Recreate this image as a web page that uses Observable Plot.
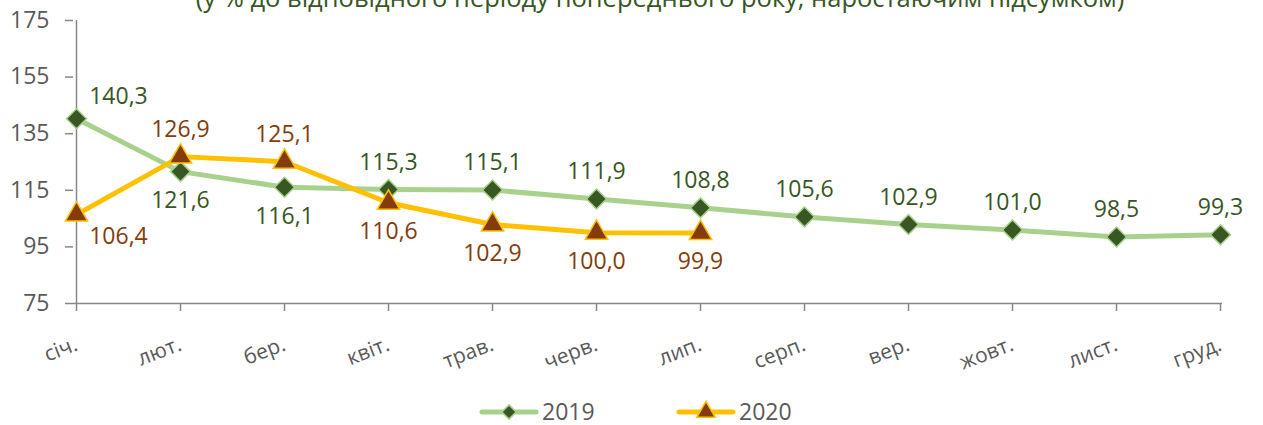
<!DOCTYPE html>
<html><head><meta charset="utf-8">
<script src="https://cdn.jsdelivr.net/npm/d3@7"></script>
<script src="https://cdn.jsdelivr.net/npm/@observablehq/plot@0.6"></script>
<style>
body{margin:0;background:#fff;width:1263px;height:425px;overflow:hidden;position:relative;font-family:"Open Sans",sans-serif;}
#title{position:absolute;left:0;width:1320px;text-align:center;top:-14.6px;font-size:25.5px;line-height:25.5px;color:#375623;white-space:nowrap}
#chart{position:absolute;left:0;top:0}
#legend{position:absolute;left:0;top:396px;width:1263px;height:30px}
</style></head>
<body>
<div id="title">(у % до відповідного періоду попереднього року, наростаючим підсумком)</div>
<div id="chart"></div>
<div id="legend"></div>
<script>
const months = ["січ.","лют.","бер.","квіт.","трав.","черв.","лип.","серп.","вер.","жовт.","лист.","груд."];
const values2019 = [140.3,121.6,116.1,115.3,115.1,111.9,108.8,105.6,102.9,101.0,98.5,99.3];
const values2020 = [106.4,126.9,125.1,110.6,102.9,100.0,99.9];
const yTicks = [75,95,115,135,155,175];
const seriesNames = ["2019","2020"];
const labelSide2019 = ["aboveRight","below","below","above","above","above","above","above","above","above","above","above"];
const labelSide2020 = ["belowRight","above","above","below","below","below","below"];

const C = {
  line2019:"#a9d18e", mark2019:"#385723", text2019:"#375623",
  line2020:"#ffc000", mark2020:"#843c0c", text2020:"#843c0c",
  axis:"#868686", tick:"#595959"
};

const fmt = v => d3.format(".1f")(v).replace(".", ",");
const d19 = values2019.map((v,i)=>({m:months[i], v, side:labelSide2019[i], s:seriesNames[0]}));
const d20 = values2020.map((v,i)=>({m:months[i], v, side:labelSide2020[i], s:seriesNames[1]}));

const offs = {above:[0,-27], below:[0,29], aboveRight:[42,-22], belowRight:[42,22]};
function labels(data, color){
  return Object.keys(offs).map(k => Plot.text(data.filter(d=>d.side===k), {
    x:"m", y:"v", text:d=>fmt(d.v), dx:offs[k][0], dy:offs[k][1],
    fill:color, fontSize:23, fontFamily:"Open Sans"
  }));
}

const chart = Plot.plot({
  width:1263, height:380,
  marginLeft:73, marginRight:41, marginTop:20, marginBottom:77,
  style:{fontFamily:"Open Sans", fontSize:"22px", background:"transparent", overflow:"visible"},
  x:{type:"point", domain:months, padding:0},
  y:{domain:[75,175]},
  marks:[
    Plot.ruleY([75], {stroke:C.axis, strokeWidth:1.5}),
    Plot.ruleX([months[0]], {y1:75, y2:175, stroke:C.axis, strokeWidth:1.5}),
    Plot.axisY({ticks:yTicks, tickSize:8, tickPadding:16, stroke:C.axis, fill:C.tick, label:null, strokeWidth:1.5}),
    Plot.axisX({tickSize:8, tickPadding:32, tickRotate:-21, stroke:C.axis, fill:C.tick, label:null, strokeWidth:1.5}),
    Plot.line(d19, {x:"m", y:"v", stroke:C.line2019, strokeWidth:5}),
    Plot.line(d20, {x:"m", y:"v", stroke:C.line2020, strokeWidth:5}),
    Plot.dot(d19, {x:"m", y:"v", symbol:"diamond2", r:9, fill:C.mark2019, stroke:C.line2019, strokeWidth:1.5}),
    Plot.dot(d20, {x:"m", y:"v", symbol:"triangle", r:8.3, fill:C.mark2020, stroke:C.line2020, strokeWidth:1.5}),
    ...labels(d19, C.text2019),
    ...labels(d20, C.text2020)
  ]
});
document.getElementById("chart").appendChild(chart);
d3.select(chart).selectAll('g[aria-label="y-axis tick label"]').attr("font-size", 23).style("font-size", "23px");
d3.select(chart).selectAll('g[aria-label="x-axis tick label"]').attr("font-size", 21).style("font-size", "21px");

// legend
const legend = d3.select("#legend").append("svg").attr("width",1263).attr("height",30);
const items = [
  {name:seriesNames[0], x:480, line:C.line2019, fill:C.mark2019, sym:d3.symbolDiamond2, size:130},
  {name:seriesNames[1], x:677, line:C.line2020, fill:C.mark2020, sym:d3.symbolTriangle, size:150}
];
items.forEach(it=>{
  const g = legend.append("g").attr("transform",`translate(${it.x},16)`);
  g.append("line").attr("x1",2).attr("x2",56).attr("stroke",it.line).attr("stroke-width",5).attr("stroke-linecap","round");
  g.append("path").attr("d",d3.symbol(it.sym,it.size)()).attr("transform","translate(29,0)").attr("fill",it.fill).attr("stroke",it.line).attr("stroke-width",1.5);
  g.append("text").attr("x",62).attr("y",8).attr("fill",C.tick).attr("font-size",23).attr("font-family","Open Sans").text(it.name);
});
</script>
</body></html>
